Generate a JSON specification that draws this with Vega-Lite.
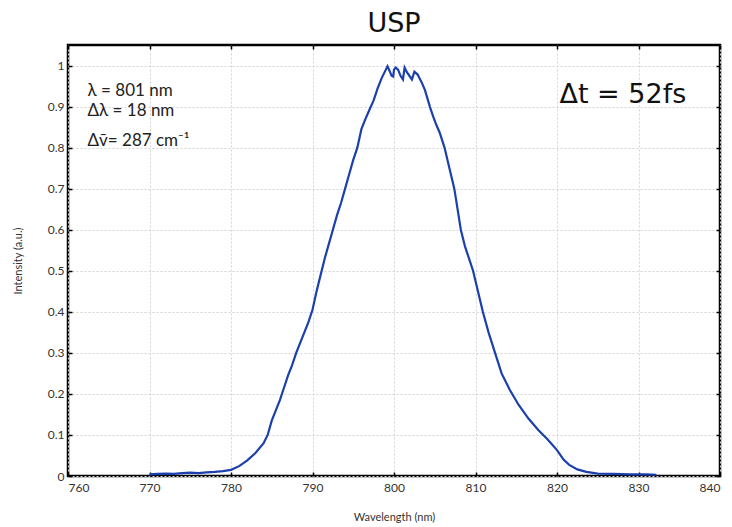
{
  "$schema": "https://vega.github.io/schema/vega-lite/v6.json",
  "width": 652,
  "height": 431,
  "autosize": {"type": "none"},
  "padding": {"left": 68, "top": 45, "right": 12, "bottom": 51},
  "background": "white",
  "title": {"text": "USP", "fontSize": 27, "font": "DejaVu Sans", "fontWeight": "normal", "color": "#111", "offset": 6},
  "config": {
    "view": {"stroke": "black", "strokeWidth": 2.5},
    "axis": {
      "labelFont": "Lato", "labelFontSize": 12, "labelColor": "#333",
      "titleFont": "Lato", "titleFontWeight": "normal", "titleColor": "#333", "titleFontSize": 11,
      "gridColor": "#d4d4d4", "gridDash": [2, 2], "gridWidth": 1,
      "domain": false, "tickColor": "black", "tickWidth": 1.5, "tickSize": -4
    }
  },
  "datasets": {
    "spec": [
      {"wl": 770.0, "i": 0.004}, {"wl": 771, "i": 0.005}, {"wl": 772, "i": 0.006}, {"wl": 773, "i": 0.005},
      {"wl": 774, "i": 0.007}, {"wl": 775, "i": 0.008}, {"wl": 776, "i": 0.007}, {"wl": 777, "i": 0.009},
      {"wl": 778, "i": 0.010}, {"wl": 779, "i": 0.012}, {"wl": 780, "i": 0.015}, {"wl": 781, "i": 0.024},
      {"wl": 782, "i": 0.038}, {"wl": 783, "i": 0.056}, {"wl": 784, "i": 0.080}, {"wl": 784.5, "i": 0.100},
      {"wl": 785, "i": 0.135}, {"wl": 785.5, "i": 0.160}, {"wl": 786, "i": 0.185}, {"wl": 786.5, "i": 0.215},
      {"wl": 787, "i": 0.245}, {"wl": 787.5, "i": 0.270}, {"wl": 788, "i": 0.300}, {"wl": 788.5, "i": 0.325},
      {"wl": 789, "i": 0.350}, {"wl": 789.5, "i": 0.375}, {"wl": 790, "i": 0.405}, {"wl": 790.5, "i": 0.450},
      {"wl": 791, "i": 0.490}, {"wl": 791.5, "i": 0.530}, {"wl": 792, "i": 0.565}, {"wl": 792.5, "i": 0.600},
      {"wl": 793, "i": 0.635}, {"wl": 793.5, "i": 0.665}, {"wl": 794, "i": 0.700}, {"wl": 794.5, "i": 0.735},
      {"wl": 795, "i": 0.770}, {"wl": 795.5, "i": 0.800}, {"wl": 796, "i": 0.845}, {"wl": 796.5, "i": 0.870},
      {"wl": 797, "i": 0.893}, {"wl": 797.5, "i": 0.915}, {"wl": 798, "i": 0.945}, {"wl": 798.5, "i": 0.970},
      {"wl": 799, "i": 0.990}, {"wl": 799.2, "i": 0.998}, {"wl": 799.5, "i": 0.985}, {"wl": 799.7, "i": 0.975},
      {"wl": 799.9, "i": 0.973}, {"wl": 800.0, "i": 0.990}, {"wl": 800.2, "i": 0.995}, {"wl": 800.5, "i": 0.990},
      {"wl": 800.8, "i": 0.975}, {"wl": 801.1, "i": 0.966}, {"wl": 801.3, "i": 0.995}, {"wl": 801.6, "i": 0.983},
      {"wl": 802.2, "i": 0.966}, {"wl": 802.5, "i": 0.985}, {"wl": 802.9, "i": 0.978}, {"wl": 803.1, "i": 0.970},
      {"wl": 803.4, "i": 0.959}, {"wl": 803.8, "i": 0.940}, {"wl": 804.4, "i": 0.900}, {"wl": 804.8, "i": 0.876},
      {"wl": 805.2, "i": 0.855}, {"wl": 805.6, "i": 0.837}, {"wl": 806.2, "i": 0.800}, {"wl": 806.8, "i": 0.750},
      {"wl": 807.4, "i": 0.700}, {"wl": 807.8, "i": 0.650}, {"wl": 808.2, "i": 0.600}, {"wl": 808.7, "i": 0.560},
      {"wl": 809.2, "i": 0.530}, {"wl": 809.7, "i": 0.500}, {"wl": 810.3, "i": 0.450}, {"wl": 810.9, "i": 0.400}, {"wl": 811.6, "i": 0.350},
      {"wl": 812.4, "i": 0.300}, {"wl": 813.2, "i": 0.250}, {"wl": 814.2, "i": 0.210}, {"wl": 815.3, "i": 0.173},
      {"wl": 816.5, "i": 0.140}, {"wl": 817.7, "i": 0.112}, {"wl": 818.8, "i": 0.090}, {"wl": 820.0, "i": 0.063},
      {"wl": 820.8, "i": 0.040}, {"wl": 821.5, "i": 0.027}, {"wl": 822.5, "i": 0.016}, {"wl": 823.6, "i": 0.010},
      {"wl": 825, "i": 0.006}, {"wl": 827, "i": 0.005}, {"wl": 829, "i": 0.004}, {"wl": 831, "i": 0.004},
      {"wl": 832.2, "i": 0.003}
    ],
    "notes": [
      {"wl": 762.4, "i": 0.937, "t": "λ = 801 nm"},
      {"wl": 762.4, "i": 0.888, "t": "Δλ = 18 nm"},
      {"wl": 762.4, "i": 0.815, "t": "Δv̄= 287 cm⁻¹"}
    ],
    "big": [
      {"wl": 820.3, "i": 0.929, "t": "Δt = 52fs"}
    ]
  },
  "layer": [
    {
      "data": {"name": "spec"},
      "mark": {"type": "line", "color": "#1c3fae", "strokeWidth": 2.2, "interpolate": "linear"},
      "encoding": {
        "x": {"field": "wl", "type": "quantitative", "scale": {"domain": [760, 840], "nice": false},
              "axis": {"title": "Wavelength (nm)", "values": [760, 770, 780, 790, 800, 810, 820, 830, 840], "labelPadding": 10, "titlePadding": 18, "orient": "bottom"}},
        "y": {"field": "i", "type": "quantitative", "scale": {"domain": [0, 1.05], "nice": false},
              "axis": {"title": "Intensity (a.u.)", "format": "~g", "values": [0, 0.1, 0.2, 0.3, 0.4, 0.5, 0.6, 0.7, 0.8, 0.9, 1], "labelPadding": 8, "titlePadding": 24, "orient": "left"}}
      }
    },
    {
      "data": {"name": "notes"},
      "mark": {"type": "text", "align": "left", "baseline": "middle", "font": "Lato", "fontSize": 17, "color": "#222"},
      "encoding": {
        "x": {"field": "wl", "type": "quantitative",
              "axis": {"orient": "top", "labels": false, "title": null, "grid": false, "values": [760, 770, 780, 790, 800, 810, 820, 830, 840]}},
        "y": {"field": "i", "type": "quantitative",
              "axis": {"orient": "right", "labels": false, "title": null, "grid": false, "values": [0, 0.1, 0.2, 0.3, 0.4, 0.5, 0.6, 0.7, 0.8, 0.9, 1]}},
        "text": {"field": "t"}
      }
    },
    {
      "data": {"name": "big"},
      "mark": {"type": "text", "align": "left", "baseline": "middle", "font": "DejaVu Sans", "fontSize": 27, "color": "#111"},
      "encoding": {
        "x": {"field": "wl", "type": "quantitative", "axis": null},
        "y": {"field": "i", "type": "quantitative", "axis": null},
        "text": {"field": "t"}
      }
    }
  ],
  "resolve": {"axis": {"x": "independent", "y": "independent"}}
}
